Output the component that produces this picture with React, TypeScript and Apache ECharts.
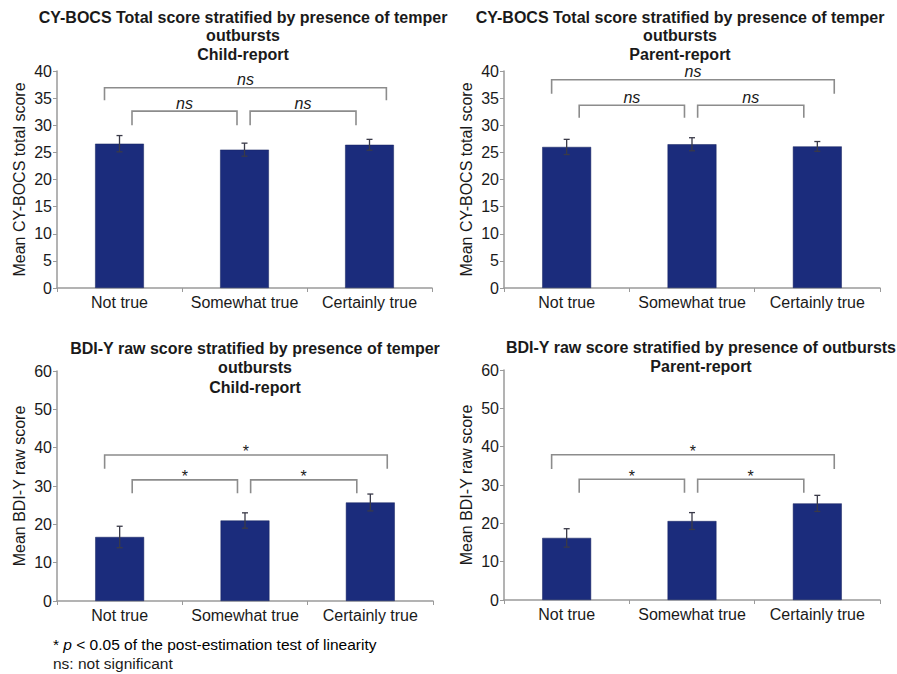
import React, { useEffect, useRef } from "react";
import * as echarts from "echarts";

const categories = ["Not true", "Somewhat true", "Certainly true"];

const cybocsChildMeans = [26.6, 25.5, 26.4];
const cybocsChildErr = [1.5, 1.2, 1.0];
const cybocsParentMeans = [26.0, 26.5, 26.1];
const cybocsParentErr = [1.4, 1.2, 0.9];
const bdiChildMeans = [16.7, 21.0, 25.7];
const bdiChildErr = [2.8, 2.0, 2.2];
const bdiParentMeans = [16.2, 20.6, 25.2];
const bdiParentErr = [2.4, 2.2, 2.1];

// brackets: [fromIndex, toIndex, lineValue, legEndValue, label]
const cybocsChildBrackets: [number, number, number, number, string][] = [
  [0, 2, 36.9, 34.6, "ns"],
  [0, 1, 32.6, 30.0, "ns"],
  [1, 2, 32.6, 30.0, "ns"],
];
const cybocsParentBrackets: [number, number, number, number, string][] = [
  [0, 2, 38.4, 35.8, "ns"],
  [0, 1, 33.7, 31.4, "ns"],
  [1, 2, 33.7, 31.4, "ns"],
];
const bdiChildBrackets: [number, number, number, number, string][] = [
  [0, 2, 38.1, 34.5, "*"],
  [0, 1, 31.6, 28.1, "*"],
  [1, 2, 31.6, 28.1, "*"],
];
const bdiParentBrackets: [number, number, number, number, string][] = [
  [0, 2, 37.9, 34.2, "*"],
  [0, 1, 31.5, 28.0, "*"],
  [1, 2, 31.5, 28.0, "*"],
];

const titles = [
  "CY-BOCS Total score stratified by presence of temper\noutbursts\nChild-report",
  "CY-BOCS Total score stratified by presence of temper\noutbursts\nParent-report",
  "BDI-Y raw score stratified by presence of temper\noutbursts\nChild-report",
  "BDI-Y raw score stratified by presence of outbursts\nParent-report",
];
const yNames = [
  "Mean CY-BOCS total score",
  "Mean CY-BOCS total score",
  "Mean BDI-Y raw score",
  "Mean BDI-Y raw score",
];
const yMax = [40, 40, 60, 60];
const yInterval = [5, 5, 10, 10];

const BAR_COLOR = "#1b2c7c";
const AXIS_COLOR = "#9a9a9a";
const BRACKET_COLOR = "#8c8c8c";
const TEXT_COLOR = "#1a1a1a";
const FONT = "Liberation Sans, Arial, sans-serif";

// bracket end offsets as fraction of category band width, keyed by (from,to)
function bracketOffsets(from: number, to: number): [number, number] {
  if (from === 0 && to === 2) return [-0.12, 0.135];
  if (from === 0 && to === 1) return [0.1, -0.06];
  return [0.045, -0.108];
}

const grids = [
  { left: 57, top: 71, width: 375, height: 217 },
  { left: 504, top: 71, width: 376, height: 217 },
  { left: 57, top: 371, width: 376, height: 230 },
  { left: 504, top: 370, width: 376, height: 230 },
];
const titlePos = [
  { x: 243, y: 8, lh: 18.5 },
  { x: 680, y: 8, lh: 18.5 },
  { x: 255, y: 338.5, lh: 19.5 },
  { x: 701, y: 337.5, lh: 19.5 },
];

export default function App() {
  const ref = useRef<HTMLDivElement>(null);
  useEffect(() => {
    if (!ref.current) return;
    const chart = echarts.init(ref.current, null, { renderer: "svg" });
    const means = [cybocsChildMeans, cybocsParentMeans, bdiChildMeans, bdiParentMeans];
    const errs = [cybocsChildErr, cybocsParentErr, bdiChildErr, bdiParentErr];
    const brackets = [cybocsChildBrackets, cybocsParentBrackets, bdiChildBrackets, bdiParentBrackets];

    const series: any[] = [];
    for (let i = 0; i < 4; i++) {
      series.push({
        type: "bar",
        xAxisIndex: i,
        yAxisIndex: i,
        data: means[i],
        barWidth: "39%",
        itemStyle: { color: BAR_COLOR, borderColor: "#15205e", borderWidth: 0.5 },
        silent: true,
      });
      series.push({
        type: "custom",
        xAxisIndex: i,
        yAxisIndex: i,
        data: means[i].map((m, k) => [k, m, errs[i][k]]),
        renderItem: (params: any, api: any) => {
          const idx = api.value(0);
          const m = api.value(1);
          const e = api.value(2);
          const top = api.coord([idx, m + e]);
          const bot = api.coord([idx, m - e]);
          const cw = 3;
          const st = { stroke: "#3a3a48", lineWidth: 1.3 };
          return {
            type: "group",
            children: [
              { type: "line", shape: { x1: top[0], y1: top[1], x2: bot[0], y2: bot[1] }, style: st },
              { type: "line", shape: { x1: top[0] - cw, y1: top[1], x2: top[0] + cw, y2: top[1] }, style: st },
              { type: "line", shape: { x1: bot[0] - cw, y1: bot[1], x2: bot[0] + cw, y2: bot[1] }, style: st },
            ],
          };
        },
        z: 5,
        silent: true,
      });
      series.push({
        type: "custom",
        xAxisIndex: i,
        yAxisIndex: i,
        data: brackets[i].map((b) => [b[0], b[1], b[2], b[3], b[4]]),
        renderItem: (params: any, api: any) => {
          const b = brackets[i][params.dataIndex];
          const from = b[0];
          const to = b[1];
          const band = api.size([1, 0])[0];
          const off = bracketOffsets(from, to);
          const p1 = api.coord([from, b[2]]);
          const p2 = api.coord([to, b[2]]);
          const legY = api.coord([from, b[3]])[1];
          const x1 = p1[0] + off[0] * band;
          const x2 = p2[0] + off[1] * band;
          const y = p1[1];
          const isStar = b[4] === "*";
          return {
            type: "group",
            children: [
              {
                type: "polyline",
                shape: { points: [[x1, legY], [x1, y], [x2, y], [x2, legY]] },
                style: { stroke: BRACKET_COLOR, lineWidth: 1.6, fill: "none" },
              },
              {
                type: "text",
                x: (x1 + x2) / 2,
                y: isStar ? y + 5 : y - 8,
                style: isStar
                  ? {
                      text: b[4],
                      align: "center",
                      verticalAlign: "bottom",
                      fill: TEXT_COLOR,
                      font: "normal 16px " + FONT,
                    }
                  : {
                      text: b[4],
                      align: "center",
                      verticalAlign: "middle",
                      lineHeight: 12,
                      fill: TEXT_COLOR,
                      font: "italic 16px " + FONT,
                    },
              },
            ],
          };
        },
        silent: true,
      });
    }

    const graphic: any[] = titles.map((t, i) => ({
      type: "text",
      x: titlePos[i].x,
      y: titlePos[i].y,
      style: {
        text: t,
        align: "center",
        verticalAlign: "top",
        fill: TEXT_COLOR,
        font: "bold 16px " + FONT,
        lineHeight: titlePos[i].lh,
      },
    }));
    graphic.push({
      type: "text",
      x: 53,
      y: 644,
      style: {
        text: "{a|* }{i|p}{a| < 0.05 of the post-estimation test of linearity}",
        verticalAlign: "middle",
        rich: {
          a: { fontSize: 15.5, fontFamily: FONT, color: TEXT_COLOR },
          i: { fontSize: 15.5, fontFamily: FONT, fontStyle: "italic", color: TEXT_COLOR },
        },
      },
    });
    graphic.push({
      type: "text",
      x: 53,
      y: 663,
      style: {
        text: "ns: not significant",
        verticalAlign: "middle",
        fill: TEXT_COLOR,
        font: "15.5px " + FONT,
      },
    });

    chart.setOption({
      animation: false,
      backgroundColor: "#ffffff",
      grid: grids.map((g) => ({ ...g, containLabel: false })),
      xAxis: grids.map((_, i) => ({
        type: "category",
        gridIndex: i,
        data: categories,
        axisLine: { lineStyle: { color: AXIS_COLOR, width: 1.5 } },
        axisTick: { show: true, length: 4, lineStyle: { color: AXIS_COLOR } },
        axisLabel: { color: TEXT_COLOR, fontSize: 16, fontFamily: FONT, margin: 6, interval: 0 },
      })),
      yAxis: grids.map((_, i) => ({
        type: "value",
        gridIndex: i,
        min: 0,
        max: yMax[i],
        interval: yInterval[i],
        name: yNames[i],
        nameLocation: "middle",
        nameRotate: 90,
        nameGap: 30,
        nameTextStyle: { color: TEXT_COLOR, fontSize: 16, fontFamily: FONT },
        axisLine: { show: true, lineStyle: { color: AXIS_COLOR, width: 1.5 } },
        axisTick: { show: true, length: 4, lineStyle: { color: AXIS_COLOR } },
        axisLabel: { color: TEXT_COLOR, fontSize: 16, fontFamily: FONT, margin: 5 },
        splitLine: { show: false },
      })),
      series,
      graphic,
    });
    return () => chart.dispose();
  }, []);
  return (
    <div
      ref={ref}
      style={{ position: "absolute", left: 0, top: 0, width: 897, height: 674, background: "#fff" }}
    />
  );
}
